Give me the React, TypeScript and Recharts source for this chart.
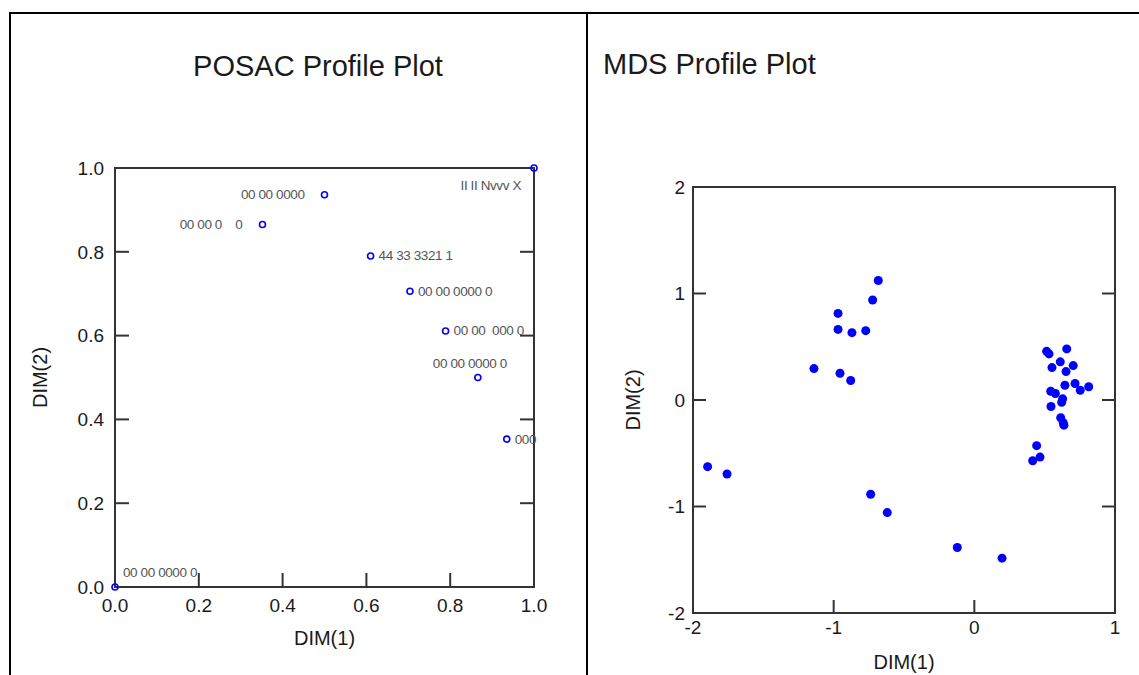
import { ScatterChart, Scatter, XAxis, YAxis, ReferenceArea, Label } from 'recharts'

const POSAC_X = [0, 0.352, 0.5, 0.61, 0.704, 0.789, 0.866, 0.935, 1]
const POSAC_Y = [0, 0.865, 0.936, 0.79, 0.706, 0.611, 0.5, 0.353, 1]
const POSAC_LABELS = [
  '00 00 0000 0',
  '00 00 0    0',
  '00 00 0000',
  '44 33 3321 1',
  '00 00 0000 0',
  '00 00  000 0',
  '00 00 0000 0',
  '000',
  'II II Nvvv X',
]
const POSAC_LABEL_SIDE = ['aboveRight', 'left', 'left', 'right', 'right', 'right', 'above', 'right', 'belowLeft']
const POSAC_TICKS = [0, 0.2, 0.4, 0.6, 0.8, 1]

const MDS_X = [
  -0.683, -0.723, -0.969, -0.969, -0.87, -0.772, -1.14, -0.955, -0.879,
  -1.896, -1.758, -0.737, -0.619, -0.121, 0.197,
  0.514, 0.531, 0.657, 0.611, 0.552, 0.703, 0.652, 0.644, 0.716, 0.753, 0.813,
  0.543, 0.576, 0.628, 0.621, 0.545, 0.614, 0.632, 0.637, 0.443, 0.467, 0.415,
]
const MDS_Y = [
  1.122, 0.939, 0.813, 0.663, 0.632, 0.651, 0.295, 0.251, 0.183,
  -0.626, -0.695, -0.885, -1.057, -1.385, -1.485,
  0.457, 0.433, 0.48, 0.358, 0.304, 0.323, 0.267, 0.139, 0.155, 0.092, 0.124,
  0.082, 0.061, 0.011, -0.021, -0.061, -0.167, -0.214, -0.236, -0.429, -0.536, -0.57,
]
const MDS_X_TICKS = [-2, -1, 0, 1]
const MDS_Y_TICKS = [-2, -1, 0, 1, 2]

const FONT = '"Liberation Sans", Arial, sans-serif'
const INK = '#1a1a1a'
const FRAME = '#333'
const tickStyle = { fill: INK, fontSize: 19, fontFamily: FONT }
const axisTitle = { fill: INK, fontSize: 20, fontFamily: FONT }
const tickLine = { stroke: FRAME, strokeWidth: 2 }
const blank = () => ''

const posacData = POSAC_X.map((x, i) => ({ x, y: POSAC_Y[i], label: POSAC_LABELS[i], side: POSAC_LABEL_SIDE[i] }))
const mdsData = MDS_X.map((x, i) => ({ x, y: MDS_Y[i] }))

function ProfilePoint({ cx, cy, payload }: any) {
  let dx = 8, dy = 0, anchor = 'start'
  if (payload.side === 'left') { dx = -20; anchor = 'end' }
  if (payload.side === 'above') { dx = -8; dy = -14; anchor = 'middle' }
  if (payload.side === 'belowLeft') { dx = -13; dy = 17; anchor = 'end' }
  if (payload.side === 'aboveRight') { dx = 8; dy = -15 }
  return (
    <g>
      <circle cx={cx} cy={cy} r={3} fill="none" stroke="#0000ff" strokeWidth={1.6} />
      <text
        x={cx + dx}
        y={cy + dy}
        textAnchor={anchor}
        dominantBaseline="central"
        fontSize={13.5}
        fontFamily={FONT}
        fill="#555"
        letterSpacing={-0.4}
        style={{ whiteSpace: 'pre' }}
      >
        {payload.label}
      </text>
    </g>
  )
}

function Dot({ cx, cy }: any) {
  return <circle cx={cx} cy={cy} r={4.5} fill="#0000ff" />
}

function PosacChart() {
  return (
    <ScatterChart width={587} height={675} margin={{ top: 148, right: 33, bottom: 58, left: 30 }}>
      <ReferenceArea x1={0} x2={1} y1={0} y2={1} fill="none" stroke={FRAME} strokeWidth={2} />
      <XAxis type="number" dataKey="x" domain={[0, 1]} ticks={POSAC_TICKS} height={30}
        tickFormatter={(v: number) => v.toFixed(1)} axisLine={false} tickLine={tickLine}
        tickSize={-14} tickMargin={26} tick={tickStyle} interval={0}>
        <Label value="DIM(1)" position="bottom" offset={14} style={axisTitle} />
      </XAxis>
      <XAxis xAxisId="top" orientation="top" type="number" domain={[0, 1]} allowDataOverflow ticks={POSAC_TICKS}
        height={20} tickFormatter={blank} axisLine={false} tickLine={tickLine} tickSize={-14} interval={0} />
      <YAxis type="number" dataKey="y" domain={[0, 1]} ticks={POSAC_TICKS} width={85}
        tickFormatter={(v: number) => v.toFixed(1)} axisLine={false} tickLine={tickLine}
        tickSize={-14} tickMargin={25} tick={tickStyle} interval={0}>
        <Label value="DIM(2)" angle={-90} position="insideLeft" offset={10} style={{ ...axisTitle, textAnchor: 'middle' }} />
      </YAxis>
      <YAxis yAxisId="right" orientation="right" type="number" domain={[0, 1]} allowDataOverflow ticks={POSAC_TICKS}
        width={20} tickFormatter={blank} axisLine={false} tickLine={tickLine} tickSize={-14} interval={0} />
      <Scatter data={posacData} shape={<ProfilePoint />} isAnimationActive={false} />
    </ScatterChart>
  )
}

function MdsChart() {
  return (
    <ScatterChart width={552} height={675} margin={{ top: 167, right: 4, bottom: 32, left: 26 }}>
      <ReferenceArea x1={-2} x2={1} y1={-2} y2={2} fill="none" stroke={FRAME} strokeWidth={2} />
      <XAxis type="number" dataKey="x" domain={[-2, 1]} ticks={MDS_X_TICKS} height={30}
        axisLine={false} tickLine={tickLine} tickSize={-13} tickMargin={21} tick={tickStyle} interval={0}>
        <Label value="DIM(1)" position="bottom" offset={12} style={axisTitle} />
      </XAxis>
      <XAxis xAxisId="top" orientation="top" type="number" domain={[-2, 1]} allowDataOverflow ticks={MDS_X_TICKS}
        height={20} tickFormatter={blank} axisLine={false} tickLine={tickLine} tickSize={-13} interval={0} />
      <YAxis type="number" dataKey="y" domain={[-2, 2]} ticks={MDS_Y_TICKS} width={80}
        axisLine={false} tickLine={tickLine} tickSize={-13} tickMargin={21} tick={tickStyle} interval={0}>
        <Label value="DIM(2)" angle={-90} position="insideLeft" offset={20} style={{ ...axisTitle, textAnchor: 'middle' }} />
      </YAxis>
      <YAxis yAxisId="right" orientation="right" type="number" domain={[-2, 2]} allowDataOverflow ticks={MDS_Y_TICKS}
        width={20} tickFormatter={blank} axisLine={false} tickLine={tickLine} tickSize={-13} interval={0} />
      <Scatter data={mdsData} shape={<Dot />} isAnimationActive={false} />
    </ScatterChart>
  )
}

export default function App() {
  return (
    <div style={{ position: 'relative', width: 1139, height: 675, overflow: 'hidden', background: '#fff', fontFamily: FONT }}>
      <style>{'body{margin:0}'}</style>
      {/* table rules */}
      <div style={{ position: 'absolute', left: 9, top: 12, width: 1130, height: 2, background: '#000' }} />
      <div style={{ position: 'absolute', left: 9, top: 12, width: 2, height: 663, background: '#000' }} />
      <div style={{ position: 'absolute', left: 586, top: 12, width: 2, height: 663, background: '#000' }} />

      <div style={{ position: 'absolute', left: 50, top: 52, width: 536, textAlign: 'center', fontSize: 29, lineHeight: '29px', color: INK }}>
        POSAC Profile Plot
      </div>
      <div style={{ position: 'absolute', left: 603, top: 50, fontSize: 29, lineHeight: '29px', color: INK }}>
        MDS Profile Plot
      </div>

      <div style={{ position: 'absolute', left: 0, top: 0 }}>
        <PosacChart />
      </div>
      <div style={{ position: 'absolute', left: 587, top: 0 }}>
        <MdsChart />
      </div>
    </div>
  )
}
